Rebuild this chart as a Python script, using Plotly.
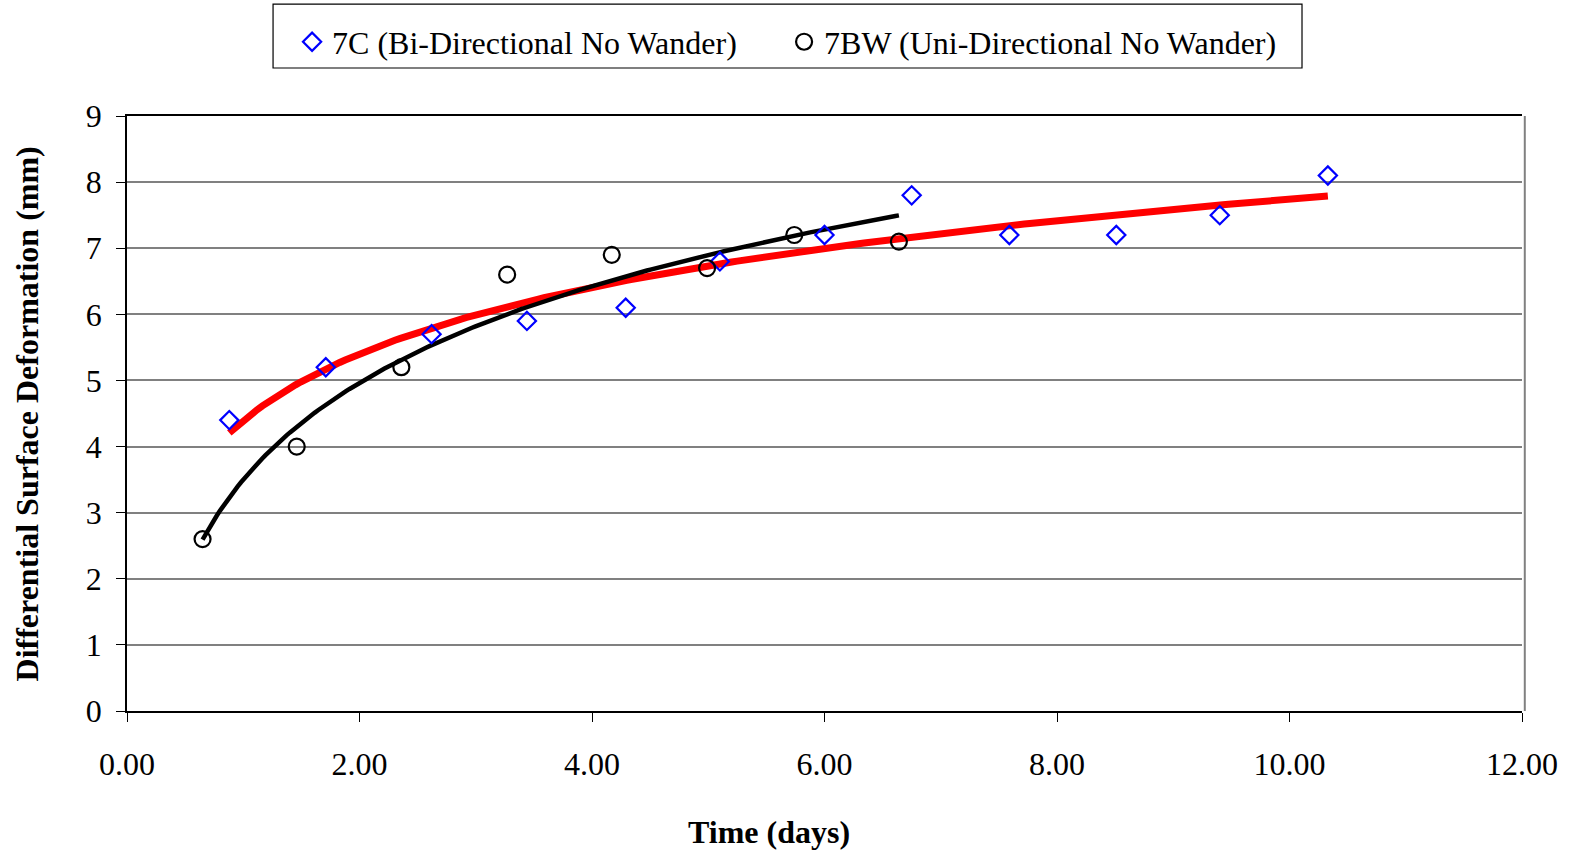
import numpy as np
import plotly.graph_objects as go

# Data
x_7c = [0.88, 1.71, 2.62, 3.44, 4.29, 5.10, 6.00, 6.75, 7.59, 8.51, 9.40, 10.33]
y_7c = [4.4, 5.2, 5.7, 5.9, 6.1, 6.8, 7.2, 7.8, 7.2, 7.2, 7.5, 8.1]
x_7bw = [0.65, 1.46, 2.36, 3.27, 4.17, 4.99, 5.74, 6.64]
y_7bw = [2.6, 4.0, 5.2, 6.6, 6.9, 6.7, 7.2, 7.1]

name_7c = "7C (Bi-Directional No Wander)"
name_7bw = "7BW (Uni-Directional No Wander)"
x_ticks = [0, 2, 4, 6, 8, 10, 12]
y_ticks = list(range(0, 10))

FONT = "Liberation Serif, Times New Roman, serif"
FS = 32


def log_fit(xs, ys):
    xs = np.asarray(xs, float)
    ys = np.asarray(ys, float)
    a, b = np.polyfit(np.log(xs), ys, 1)
    xx = np.linspace(xs.min(), xs.max(), 200)
    return xx, a * np.log(xx) + b


fx_c, fy_c = log_fit(x_7c, y_7c)
fx_b, fy_b = log_fit(x_7bw, y_7bw)

fig = go.Figure()
fig.add_trace(go.Scatter(x=fx_c, y=fy_c, mode="lines", line=dict(color="#ff0000", width=7),
                         showlegend=False, hoverinfo="skip"))
fig.add_trace(go.Scatter(x=fx_b, y=fy_b, mode="lines", line=dict(color="#000000", width=4.5),
                         showlegend=False, hoverinfo="skip"))
fig.add_trace(go.Scatter(x=x_7c, y=y_7c, mode="markers", name=name_7c,
                         marker=dict(symbol="diamond-open", size=14, color="#0000ff",
                                     line=dict(width=2.2, color="#0000ff"))))
fig.add_trace(go.Scatter(x=x_7bw, y=y_7bw, mode="markers", name=name_7bw,
                         marker=dict(symbol="circle-open", size=16, color="#000000",
                                     line=dict(width=2.2, color="#000000"))))

fig.update_layout(
    width=1572, height=856,
    margin=dict(l=127, r=50, t=116, b=145),
    paper_bgcolor="white", plot_bgcolor="white",
    font=dict(family=FONT, size=FS, color="black"),
    legend=dict(orientation="h", xref="container", yref="container",
                x=0.1858, xanchor="left", y=0.951, yanchor="middle",
                borderwidth=0, bgcolor="rgba(0,0,0,0)",
                font=dict(family=FONT, size=FS), itemwidth=30,
                entrywidth=447, tracegroupgap=0),
    xaxis=dict(range=[0, 12], tickvals=x_ticks, tickformat=".2f",
               showgrid=False, showline=True, linecolor="black", linewidth=1.5,
               ticks="outside", ticklen=9, tickcolor="black", zeroline=False,
               mirror=True, ticklabelstandoff=15),
    yaxis=dict(range=[0, 9], tickvals=y_ticks, showgrid=True, gridcolor="#808080",
               gridwidth=1.5, showline=True, linecolor="black", linewidth=1.5,
               ticks="outside", ticklen=9, tickcolor="black", zeroline=False,
               ticklabelstandoff=8),
    annotations=[
        dict(text="<b>Time (days)</b>", xref="paper", yref="paper", x=0.46,
             y=-0.203, xanchor="center", yanchor="middle", showarrow=False,
             font=dict(family=FONT, size=FS)),
        dict(text="<b>Differential Surface Deformation (mm)</b>", xref="paper", yref="paper",
             x=-0.0717, y=0.5, xanchor="center", yanchor="middle", showarrow=False,
             textangle=-90, font=dict(family=FONT, size=FS)),
    ],
    shapes=[
        dict(type="line", xref="paper", yref="paper", x0=1.002, x1=1.002, y0=0, y1=1,
             line=dict(color="#808080", width=2)),
        dict(type="rect", xref="paper", yref="paper", x0=0.1047, x1=0.8423,
             y0=1.0807, y1=1.188, line=dict(color="black", width=1.2)),
    ],
)

fig.write_html("out.html")
